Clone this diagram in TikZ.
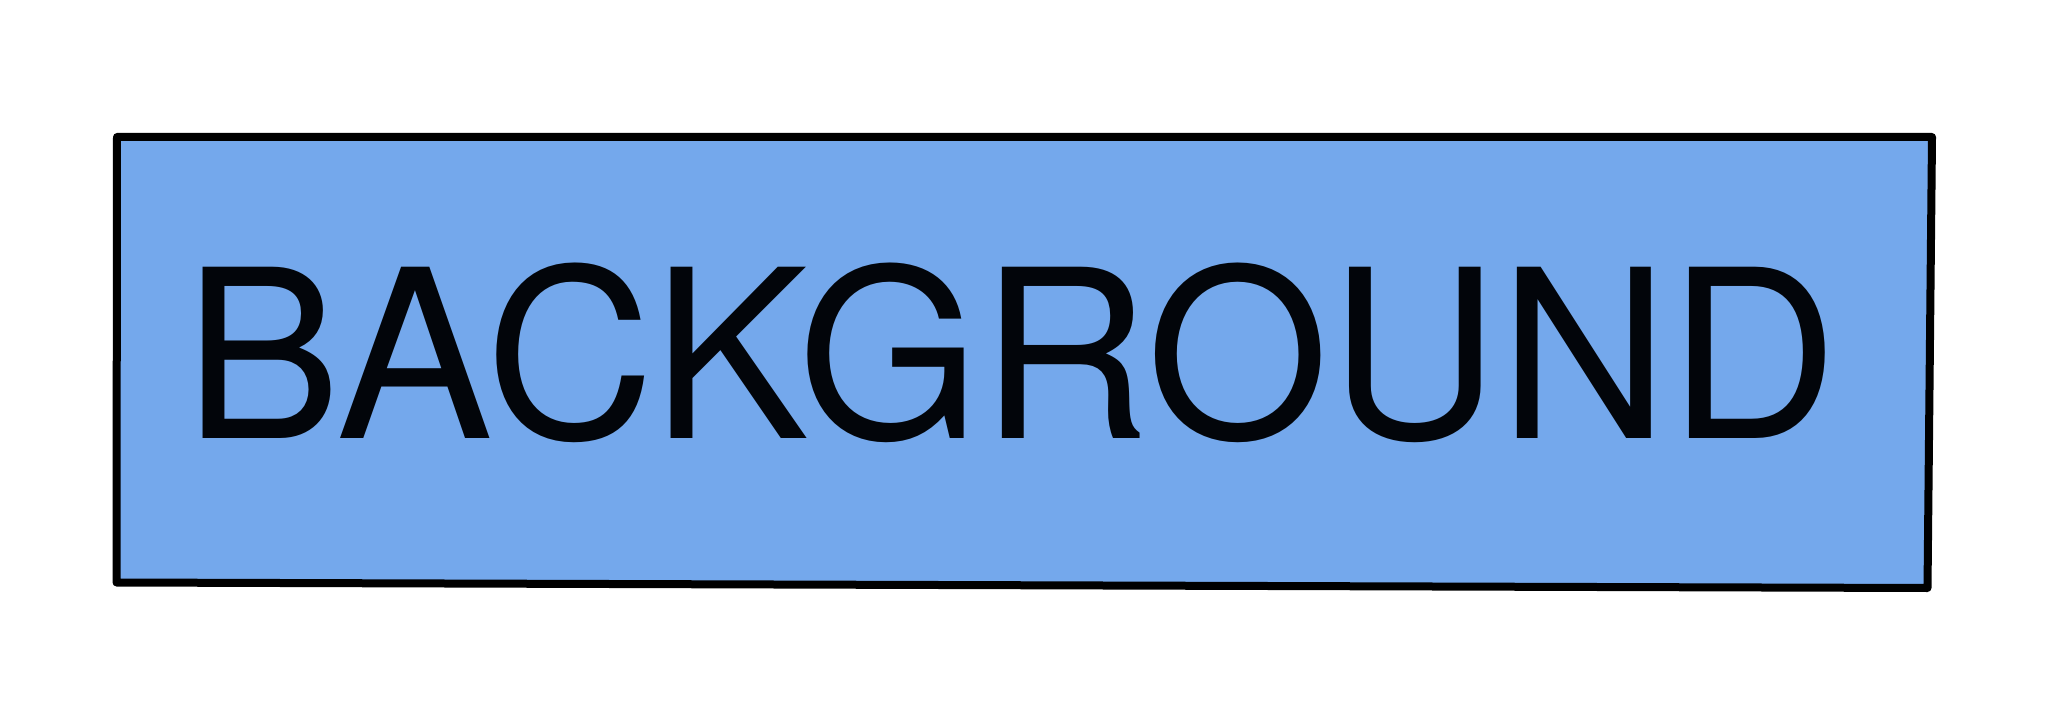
\documentclass[tikz,border=0pt]{standalone}
\usepackage{fontspec}
\setmainfont{TeX Gyre Heros}
\definecolor{bgblue}{RGB}{116,168,236}
\definecolor{inkblack}{RGB}{2,5,10}
\tikzset{
  bgbox/.style={draw=black, fill=bgblue, line width=8pt, line join=round},
  bglabel/.style={inner sep=0pt, outer sep=0pt, anchor=base west, text=inkblack,
    font=\fontsize{235}{235}\selectfont}
}
\begin{document}
\begin{tikzpicture}[x=1pt,y=-1pt]
\useasboundingbox (0,0) rectangle (2048,714);
\coordinate (tl) at (117,137);
\coordinate (tr) at (1932,137);
\coordinate (br) at (1927.5,588);
\coordinate (bl) at (116.5,582.5);
\draw[bgbox] (tl) -- (tr) -- (br) -- (bl) -- cycle;
\node[bglabel] (label) at (184.7,438.3) {BACKGROUND};
\end{tikzpicture}
\end{document}
